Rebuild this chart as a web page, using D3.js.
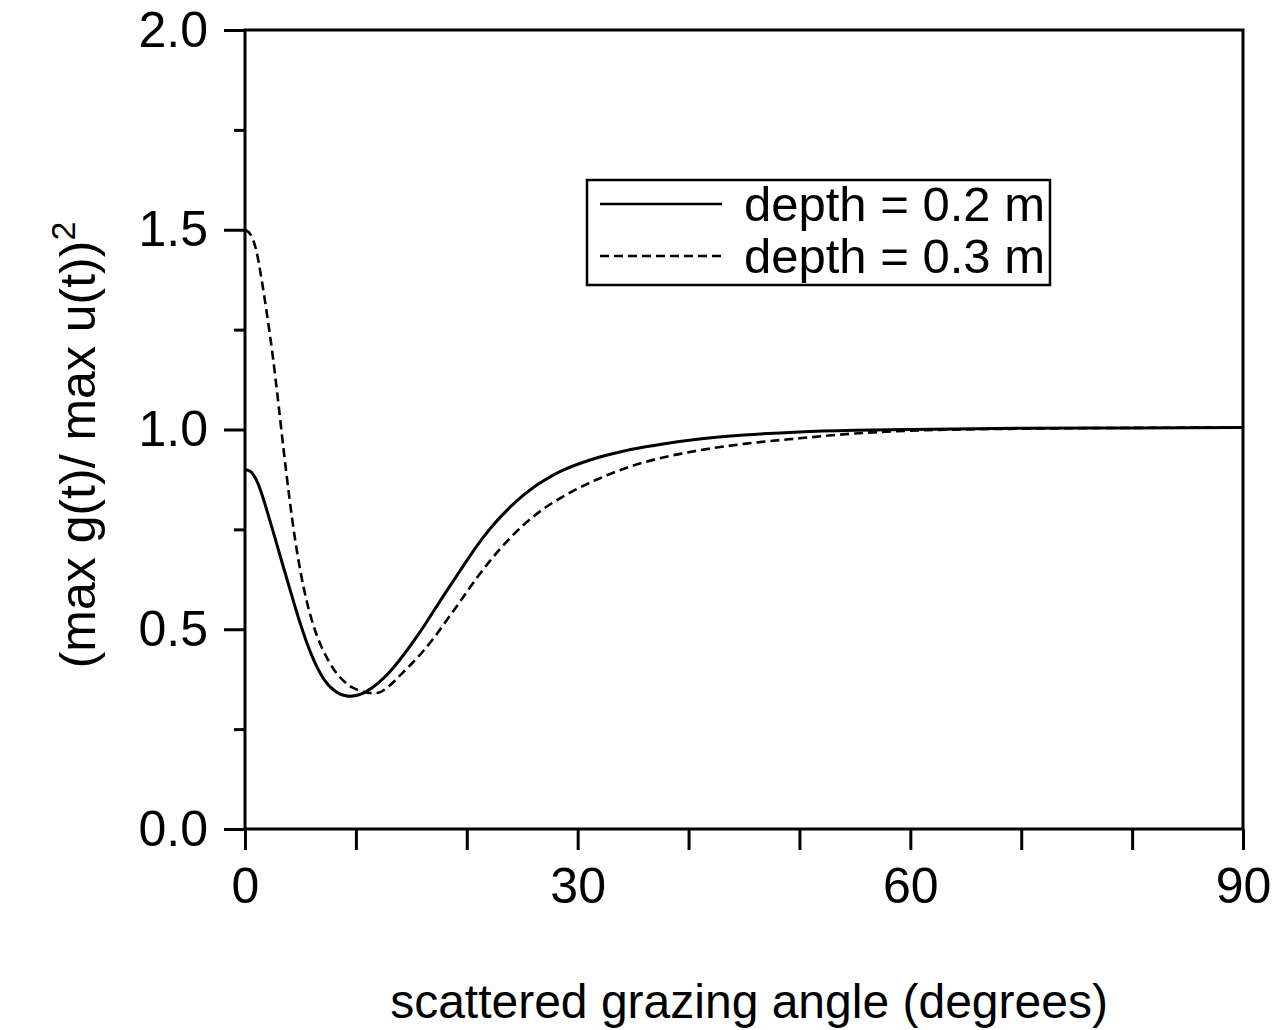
<!DOCTYPE html>
<html>
<head>
<meta charset="utf-8">
<script src="https://cdn.jsdelivr.net/npm/d3@7.9.0/dist/d3.min.js"></script>
<style>
  body { margin: 0; background: #fff; }
  svg { display: block; font-family: "Liberation Sans", Arial, sans-serif; }
</style>
</head>
<body>
<svg id="chart" width="1277" height="1030"></svg>
<script>
// depth = 0.2 m (solid)
const angle02 = [0, 0.5, 1, 1.5, 2, 2.5, 3, 3.5, 4, 4.5, 5, 5.5, 6, 6.5, 7, 7.5, 8, 8.5, 9, 9.5, 10, 10.5, 11, 12, 13, 14, 15, 16, 17, 18, 19, 20, 21, 22, 23, 24, 25, 26, 27, 28, 29, 30, 32, 34, 36, 38, 41, 45, 50, 55, 60, 70, 80, 90];
const value02 = [0.900, 0.895, 0.875, 0.840, 0.795, 0.748, 0.700, 0.652, 0.605, 0.558, 0.513, 0.472, 0.436, 0.405, 0.380, 0.361, 0.348, 0.339, 0.334, 0.332, 0.334, 0.338, 0.345, 0.365, 0.392, 0.425, 0.462, 0.502, 0.545, 0.588, 0.630, 0.672, 0.712, 0.748, 0.780, 0.808, 0.833, 0.855, 0.873, 0.889, 0.902, 0.913, 0.931, 0.945, 0.956, 0.965, 0.976, 0.986, 0.994, 0.998, 1.000, 1.003, 1.004, 1.005];

// depth = 0.3 m (dashed)
const angle03 = [0, 0.5, 1, 1.5, 2, 2.5, 3, 3.5, 4, 4.5, 5, 5.5, 6, 6.5, 7, 7.5, 8, 8.5, 9, 9.5, 10, 10.5, 11, 11.5, 12, 13, 14, 15, 16, 17, 18, 19, 20, 21, 22, 23, 24, 25, 26, 27, 28, 29, 30, 32, 34, 36, 38, 41, 45, 50, 55, 60, 70, 80, 90];
const value03 = [1.500, 1.488, 1.450, 1.375, 1.285, 1.185, 1.068, 0.945, 0.830, 0.728, 0.645, 0.578, 0.525, 0.483, 0.450, 0.423, 0.400, 0.382, 0.368, 0.357, 0.350, 0.345, 0.341, 0.340, 0.341, 0.358, 0.385, 0.413, 0.443, 0.477, 0.515, 0.554, 0.593, 0.632, 0.668, 0.701, 0.731, 0.758, 0.782, 0.803, 0.821, 0.837, 0.852, 0.878, 0.900, 0.918, 0.932, 0.948, 0.964, 0.978, 0.990, 0.997, 1.002, 1.004, 1.005];

const xTickValues = [0, 10, 20, 30, 40, 50, 60, 70, 80, 90];
const xLabelValues = [0, 30, 60, 90];
const yMajorTicks = [0, 0.5, 1.0, 1.5, 2.0];
const yMinorTicks = [0.25, 0.75, 1.25, 1.75];

const legendLabels = ['depth = 0.2 m', 'depth = 0.3 m'];

const series = [
  { label: legendLabels[0], x: angle02, y: value02, dash: null },
  { label: legendLabels[1], x: angle03, y: value03, dash: '9,5' },
];

const svg = d3.select('#chart');

const plotLeft = 245, plotRight = 1243, plotTop = 30, plotBottom = 829;

const x = d3.scaleLinear().domain([0, 90]).range([plotLeft, plotRight]);
const y = d3.scaleLinear().domain([0, 2]).range([plotBottom, plotTop]);

// frame
svg.append('rect')
  .attr('x', plotLeft).attr('y', plotTop)
  .attr('width', plotRight - plotLeft).attr('height', plotBottom - plotTop)
  .attr('fill', 'none').attr('stroke', '#000').attr('stroke-width', 3);

// x axis
const xAxis = d3.axisBottom(x)
  .tickValues(xTickValues)
  .tickSize(21)
  .tickFormat(d => xLabelValues.includes(d) ? d : '');

const gx = svg.append('g')
  .attr('transform', `translate(0,${plotBottom})`)
  .call(xAxis);
gx.select('.domain').remove();
gx.selectAll('line').attr('stroke', '#000').attr('stroke-width', 3);
gx.selectAll('text')
  .attr('fill', '#000')
  .attr('font-size', 50)
  .attr('dy', '1.0em');

// y axis major
const yAxis = d3.axisLeft(y)
  .tickValues(yMajorTicks)
  .tickSize(21)
  .tickPadding(16)
  .tickFormat(d3.format('.1f'));

const gy = svg.append('g')
  .attr('transform', `translate(${plotLeft},0)`)
  .call(yAxis);
gy.select('.domain').remove();
gy.selectAll('line').attr('stroke', '#000').attr('stroke-width', 3);
gy.selectAll('text')
  .attr('fill', '#000')
  .attr('font-size', 50);

// y axis minor
const gyMinor = svg.append('g')
  .attr('transform', `translate(${plotLeft},0)`)
  .call(d3.axisLeft(y).tickValues(yMinorTicks).tickSize(11).tickFormat(''));
gyMinor.select('.domain').remove();
gyMinor.selectAll('line').attr('stroke', '#000').attr('stroke-width', 3);

// curves
const line = d3.line()
  .x(d => x(d[0]))
  .y(d => y(d[1]))
  .curve(d3.curveMonotoneX);

series.forEach(s => {
  svg.append('path')
    .datum(s.x.map((v, i) => [v, s.y[i]]))
    .attr('d', line)
    .attr('fill', 'none')
    .attr('stroke', '#000')
    .attr('stroke-width', s.dash ? 2.6 : 3)
    .attr('stroke-dasharray', s.dash);
});

// legend
const legend = svg.append('g');
legend.append('rect')
  .attr('x', 587).attr('y', 180)
  .attr('width', 463).attr('height', 105)
  .attr('fill', '#fff').attr('stroke', '#000').attr('stroke-width', 2.5);

series.forEach((s, i) => {
  const ly = 204 + i * 52;
  legend.append('line')
    .attr('x1', 600).attr('x2', 722)
    .attr('y1', ly).attr('y2', ly)
    .attr('stroke', '#000')
    .attr('stroke-width', 2.4)
    .attr('stroke-dasharray', s.dash);
  legend.append('text')
    .attr('x', 744).attr('y', ly + 17)
    .attr('font-size', 49)
    .text(s.label);
});

// axis titles
svg.append('text')
  .attr('x', (plotLeft + plotRight) / 2 + 5)
  .attr('y', 1018)
  .attr('text-anchor', 'middle')
  .attr('font-size', 48)
  .text('scattered grazing angle (degrees)');

const yTitle = svg.append('text')
  .attr('transform', 'translate(95,445) rotate(-90)')
  .attr('text-anchor', 'middle')
  .attr('font-size', 50);
yTitle.append('tspan').text('(max g(t)/ max u(t))');
yTitle.append('tspan').attr('font-size', 34).attr('dy', -20).text('2');
</script>
</body>
</html>
